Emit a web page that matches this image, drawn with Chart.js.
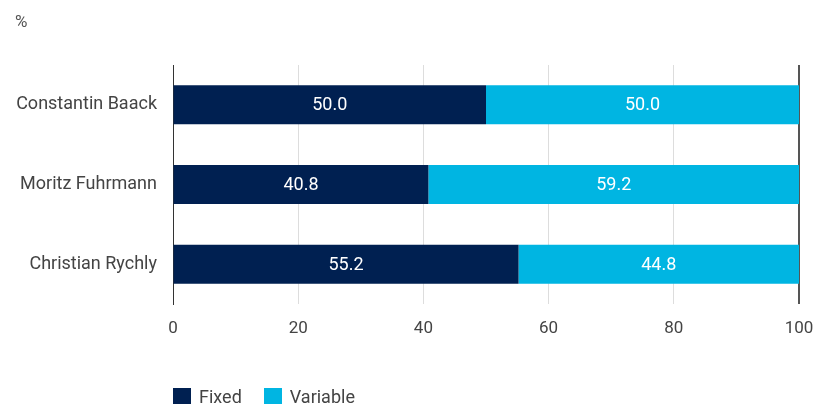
<!DOCTYPE html>
<html><head><meta charset="utf-8">
<script src="https://cdn.jsdelivr.net/npm/chart.js@4/dist/chart.umd.min.js"></script>
<style>
html,body{margin:0;padding:0;background:#fff;}
#wrap{position:relative;width:814px;height:404px;font-family:Roboto,"Noto Sans",sans-serif;}
#unit{position:absolute;left:15px;top:11px;font-size:17px;color:#555;}
#legend{position:absolute;left:173px;top:386px;display:flex;font-size:18px;color:#444;}
.li{display:flex;align-items:center;margin-right:22px;}
.sw{width:18px;height:18px;margin-right:8px;}
canvas{position:absolute;left:0;top:0;}
</style></head>
<body><div id="wrap"><canvas id="c" width="814" height="404"></canvas>
<div id="unit">%</div>
<div id="legend"></div></div>
<script>
const categories = ["Constantin Baack", "Moritz Fuhrmann", "Christian Rychly"];
const fixedValues = [50.0, 40.8, 55.2];
const variableValues = [50.0, 59.2, 44.8];
const seriesNames = ["Fixed", "Variable"];
const colors = ["#002051", "#00b5e2"];
const FONT = 'Roboto, "Noto Sans", sans-serif';

const lg = document.getElementById('legend');
seriesNames.forEach((n,i)=>{
  const d=document.createElement('div');d.className='li';
  d.innerHTML='<span class="sw" style="background:'+colors[i]+'"></span><span>'+n+'</span>';
  lg.appendChild(d);
});

const labelPlugin = {
  id:'barLabels',
  afterDatasetsDraw(chart){
    const ctx=chart.ctx;
    ctx.save();
    ctx.fillStyle='#fff';
    ctx.font='18px '+FONT;
    ctx.textAlign='center';ctx.textBaseline='middle';
    chart.data.datasets.forEach((ds,di)=>{
      const meta=chart.getDatasetMeta(di);
      meta.data.forEach((bar,i)=>{
        const cx=(bar.x+bar.base)/2;
        ctx.fillText(ds.data[i].toFixed(1),cx,bar.y+1);
      });
    });
    ctx.restore();
  }
};

new Chart(document.getElementById('c'),{
  type:'bar',
  data:{labels:categories,datasets:[
    {label:seriesNames[0],data:fixedValues,backgroundColor:colors[0],borderWidth:0},
    {label:seriesNames[1],data:variableValues,backgroundColor:colors[1],borderWidth:0}
  ]},
  options:{
    indexAxis:'y',responsive:false,animation:false,
    categoryPercentage:1,barPercentage:0.49,
    layout:{padding:{left:0,right:15,top:65,bottom:0}},
    plugins:{legend:{display:false},tooltip:{enabled:false}},
    scales:{
      x:{stacked:true,min:0,max:100,
        ticks:{stepSize:20,color:'#444',font:{size:17,family:FONT},padding:15},
        grid:{drawTicks:false,color:(c)=>c.tick&&c.tick.value===100?'#555':'#dddddd',lineWidth:(c)=>c.tick&&c.tick.value===100?2:1},
        border:{display:false},
        afterFit(s){s.height=100;s.paddingRight=0;s.paddingLeft=0;}
      },
      y:{stacked:true,
        ticks:{color:'#444',font:{size:18,family:FONT},padding:16},
        grid:{display:false,drawTicks:false},
        border:{display:true,color:'#333',width:1},
        afterFit(s){s.width=173;s.paddingTop=0;s.paddingBottom=0;}
      }
    }
  },
  plugins:[labelPlugin]
});
</script></body></html>
